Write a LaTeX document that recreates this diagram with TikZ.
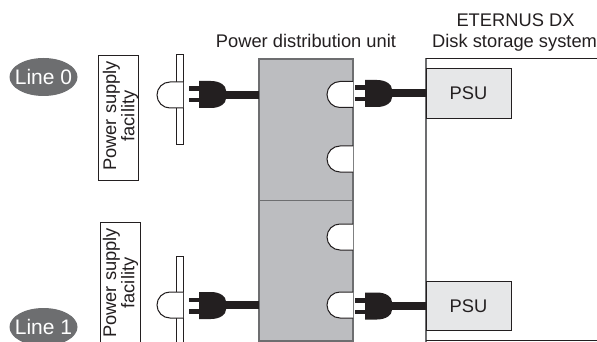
\documentclass[tikz,border=0pt]{standalone}
\usepackage{fontspec}
\setmainfont{Liberation Sans}
\definecolor{unitgray}{HTML}{BCBDC0}
\definecolor{psugray}{HTML}{E6E7E8}
\definecolor{linegray}{HTML}{6D6E70}
\definecolor{plugblack}{HTML}{231F20}
\usetikzlibrary{shapes.geometric}
\tikzset{
  txt/.style={font=\fontsize{18.3}{18.3}\selectfont,text=plugblack},
  psubox/.style={draw=plugblack,line width=1pt,fill=psugray,minimum width=85pt,minimum height=49.5pt,inner sep=0pt,txt},
  lineoval/.style={ellipse,fill=linegray,text=white,minimum width=68pt,minimum height=38pt,inner xsep=-6pt,inner ysep=0pt,font=\fontsize{21}{21}\selectfont},
  cord/.style={line width=8pt,plugblack},
  socketline/.style={draw=plugblack,line width=1pt},
  factext/.style={txt,rotate=90,align=center,inner sep=0pt},
}
% plug: #1 left end of the prongs (x), #2 centre y
\newcommand{\plugshape}[2]{%
  \fill[plugblack,shift={(#1,#2)}] (10,-13.5) -- (22,-13.5) .. controls (31,-13.5) and (37,-9) .. (37,-4) -- (37,4) .. controls (37,9) and (31,13.5) .. (22,13.5) -- (10,13.5) -- cycle;
  \fill[plugblack,shift={(#1,#2)}] (0,-8) rectangle (10,-3.5);
  \fill[plugblack,shift={(#1,#2)}] (0,3.5) rectangle (10,8);
}
% socket: #1 right x, #2 centre y
\newcommand{\socketshape}[2]{%
  \draw[socketline,fill=white,shift={(#1,#2)}] (0,-13) -- (-13,-13) arc[start angle=-90,end angle=-270,radius=13] -- (0,13);
}
\begin{document}
\begin{tikzpicture}[x=1pt,y=-1pt]
\useasboundingbox (0,0) rectangle (597,342);
\clip (0,0) rectangle (597,342);
\fill[white] (0,0) rectangle (597,342);

% labels
\node[txt] (pdulabel) at (306,41) {Power distribution unit};
\node[txt] (eternus) at (515.5,20.5) {ETERNUS DX};
\node[txt,anchor=west,inner sep=0pt] (dsslabel) at (432,42.5) {Disk storage system};

% ovals
\node[lineoval] (line0) at (43.5,77) {Line 0};
\node[lineoval] (line1) at (43.5,327) {Line 1};

% facilities
\draw[socketline,fill=white] (98,56) rectangle (138,180);
\node[factext] (fac0) at (120.5,116) {Power supply\\facility};
\draw[socketline,fill=white] (100.5,222) rectangle (140,350);
\node[factext] (fac1) at (120.5,283) {Power supply\\facility};

% wall plates
\draw[socketline,fill=white] (176,55) rectangle (183,145);
\draw[socketline,fill=white] (176,256) rectangle (183,350);
\socketshape{183}{95}
\socketshape{183}{305}

% distribution unit
\fill[unitgray] (259,59) rectangle (353,342);
\draw[linegray,line width=1.2pt] (259,342) -- (259,59) -- (353,59) -- (353,342);
\draw[linegray,line width=0.8pt] (259,200.5) -- (353,200.5);
\draw[linegray,line width=1.2pt] (259,341) -- (353,341);
\socketshape{353}{94.5}
\socketshape{353}{159}
\socketshape{353}{237}
\socketshape{353}{305}

% storage system
\draw[linegray,line width=1.2pt] (426,342) -- (426,58.5);
\draw[plugblack,line width=1pt] (426,58.5) -- (597,58.5);
\draw[plugblack,line width=1pt] (426,340.5) -- (597,340.5);
\node[psubox] (psu0) at (468.5,93.5) {PSU};
\node[psubox] (psu1) at (468.5,306) {PSU};

% cords and plugs
\coordinate (cordA) at (226,95);
\coordinate (pduA) at (259,95);
\coordinate (cordB) at (226,305);
\coordinate (pduB) at (259,305);
\coordinate (cordC) at (392,93.5);
\coordinate (cordD) at (392,306);
\draw[cord] (cordA) -- (pduA);
\draw[cord] (cordB) -- (pduB);
\draw[cord] (cordC) -- (psu0.west);
\draw[cord] (cordD) -- (psu1.west);
\plugshape{189}{94.5}
\plugshape{189}{305.5}
\plugshape{355}{93.5}
\plugshape{355}{306}
\end{tikzpicture}
\end{document}
